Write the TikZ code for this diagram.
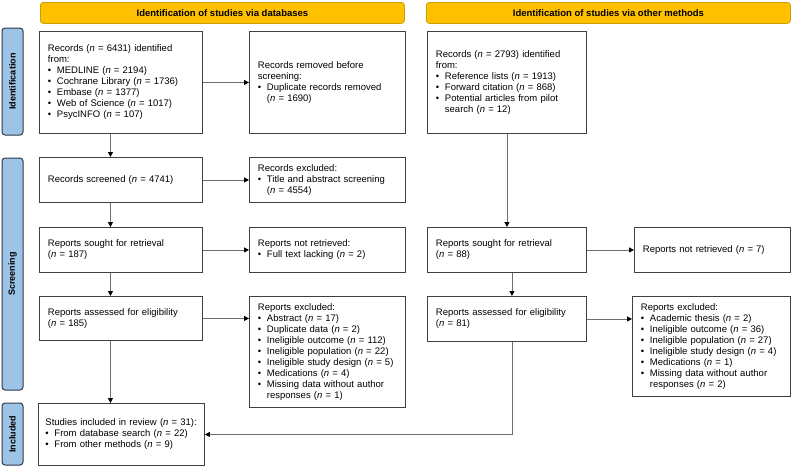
\documentclass[tikz,border=0pt]{standalone}
\usepackage{fontspec}
\setmainfont{Liberation Sans}
\usetikzlibrary{arrows.meta,calc}
\definecolor{hdr}{HTML}{FFC000}
\definecolor{hdrb}{HTML}{C9A000}
\definecolor{side}{HTML}{9DC3E6}
\definecolor{sideb}{HTML}{2E3A4A}
\definecolor{bord}{HTML}{404040}
\definecolor{conn}{HTML}{6E6E6E}
\newcommand{\bl}{\makebox[9pt][l]{\textbullet}}
\newcommand{\ind}{\hspace*{9pt}}
\newcommand{\nn}{\textit{n}}
\begin{document}
\begin{tikzpicture}[x=1pt,y=-1pt,
  bx/.style={draw=bord,line width=0.9pt,fill=white,anchor=north west,inner xsep=8.5pt,inner ysep=0pt,align=left,font=\fontsize{9.5}{11}\selectfont},
  hd/.style={draw=hdrb,fill=hdr,line width=0.8pt,rounded corners=3pt,anchor=north west,inner sep=0pt,font=\bfseries\fontsize{9.5}{11}\selectfont,minimum height=21pt,minimum width=364pt},
  sd/.style={draw=sideb,fill=side,line width=1pt,rounded corners=3pt,inner sep=0pt,font=\bfseries\fontsize{9}{11}\selectfont,minimum height=21pt,rotate=90},
  ar/.style={draw=conn,line width=0.8pt,-{Triangle[length=5pt,width=5pt,color=black]}},
  ln/.style={draw=conn,line width=0.8pt}]
\useasboundingbox (0,0) rectangle (791,467);

% headers
\node[hd] (H1) at (40,2) {Identification of studies via databases};
\node[hd] (H2) at (426,2) {Identification of studies via other methods};

% side labels
\node[sd,minimum width=107pt] (S1) at (12.5,81.5) {Identification};
\node[sd,minimum width=232pt] (S2) at (12.5,274) {Screening};
\node[sd,minimum width=62pt] (S3) at (12.5,434) {Included};

% database column
\node[bx,minimum width=163pt,minimum height=102pt,text width=146pt] (A1) at (39,31)
  {Records (\nn{} = 6431) identified\\from:\\\bl MEDLINE (\nn{} = 2194)\\\bl Cochrane Library (\nn{} = 1736)\\\bl Embase (\nn{} = 1377)\\\bl Web of Science (\nn{} = 1017)\\\bl PsycINFO (\nn{} = 107)};
\node[bx,minimum width=156pt,minimum height=102pt,text width=139pt] (A2) at (249,31)
  {Records removed before\\screening:\\\bl Duplicate records removed\\\ind(\nn{} = 1690)};
\node[bx,minimum width=163pt,minimum height=45pt,text width=146pt] (A3) at (39,157)
  {Records screened (\nn{} = 4741)};
\node[bx,minimum width=156pt,minimum height=45pt,text width=139pt] (A4) at (249,157)
  {Records excluded:\\\bl Title and abstract screening\\\ind(\nn{} = 4554)};
\node[bx,minimum width=163pt,minimum height=45pt,text width=146pt] (A5) at (39,227)
  {Reports sought for retrieval\\(\nn{} = 187)};
\node[bx,minimum width=156pt,minimum height=45pt,text width=139pt] (A6) at (249,227)
  {Reports not retrieved:\\\bl Full text lacking (\nn{} = 2)};
\node[bx,minimum width=163pt,minimum height=44pt,text width=146pt] (A7) at (39,296)
  {Reports assessed for eligibility\\(\nn{} = 185)};
\node[bx,minimum width=156pt,minimum height=111pt,text width=139pt] (A8) at (249,296)
  {Reports excluded:\\\bl Abstract (\nn{} = 17)\\\bl Duplicate data (\nn{} = 2)\\\bl Ineligible outcome (\nn{} = 112)\\\bl Ineligible population (\nn{} = 22)\\\bl Ineligible study design (\nn{} = 5)\\\bl Medications (\nn{} = 4)\\\bl Missing data without author\\\ind responses (\nn{} = 1)};
\node[bx,inner xsep=7pt,minimum width=166pt,minimum height=62pt,text width=152pt] (A9) at (38,403)
  {Studies included in review (\nn{} = 31):\\\bl From database search (\nn{} = 22)\\\bl From other methods (\nn{} = 9)};

% other methods column
\node[bx,minimum width=159pt,minimum height=102pt,text width=142pt] (B1) at (427,31)
  {Records (\nn{} = 2793) identified\\from:\\\bl Reference lists (\nn{} = 1913)\\\bl Forward citation (\nn{} = 868)\\\bl Potential articles from pilot\\\ind search (\nn{} = 12)};
\node[bx,minimum width=159pt,minimum height=45pt,text width=142pt] (B2) at (427,227)
  {Reports sought for retrieval\\(\nn{} = 88)};
\node[bx,minimum width=156pt,minimum height=45pt,text width=139pt] (B3) at (634,227)
  {Reports not retrieved (\nn{} = 7)};
\node[bx,minimum width=159pt,minimum height=45pt,text width=142pt] (B4) at (427,296)
  {Reports assessed for eligibility\\(\nn{} = 81)};
\node[bx,minimum width=158pt,minimum height=100pt,text width=141pt] (B5) at (632,296)
  {Reports excluded:\\\bl Academic thesis (\nn{} = 2)\\\bl Ineligible outcome (\nn{} = 36)\\\bl Ineligible population (\nn{} = 27)\\\bl Ineligible study design (\nn{} = 4)\\\bl Medications (\nn{} = 1)\\\bl Missing data without author\\\ind responses (\nn{} = 2)};

% connectors
\draw[ar] ([xshift=-10.5pt]A1.south) -- ([xshift=-10.5pt]A1.south |- A3.north);
\draw[ar] ([xshift=-10.5pt]A3.south) -- ([xshift=-10.5pt]A3.south |- A5.north);
\draw[ar] ([xshift=-10.5pt]A5.south) -- ([xshift=-10.5pt]A5.south |- A7.north);
\draw[ar] ([xshift=-10.5pt]A7.south) -- ([xshift=-10.5pt]A7.south |- A9.north);
\draw[ar] (A1.east) -- (A2.west);
\draw[ar] (A3.east) -- (A4.west);
\draw[ar] (A5.east) -- (A6.west);
\draw[ar] (A7.east) -- (A7.east -| A8.west);
\draw[ar] (B1.south) -- (B2.north);
\draw[ar] (B2.east) -- (B3.west);
\draw[ar] ([xshift=5pt]B2.south) -- ([xshift=5pt]B4.north);
\draw[ar] (B4.east) -- (B4.east -| B5.west);
\draw[ar] ([xshift=5pt]B4.south) |- (A9.east);
\end{tikzpicture}
\end{document}
